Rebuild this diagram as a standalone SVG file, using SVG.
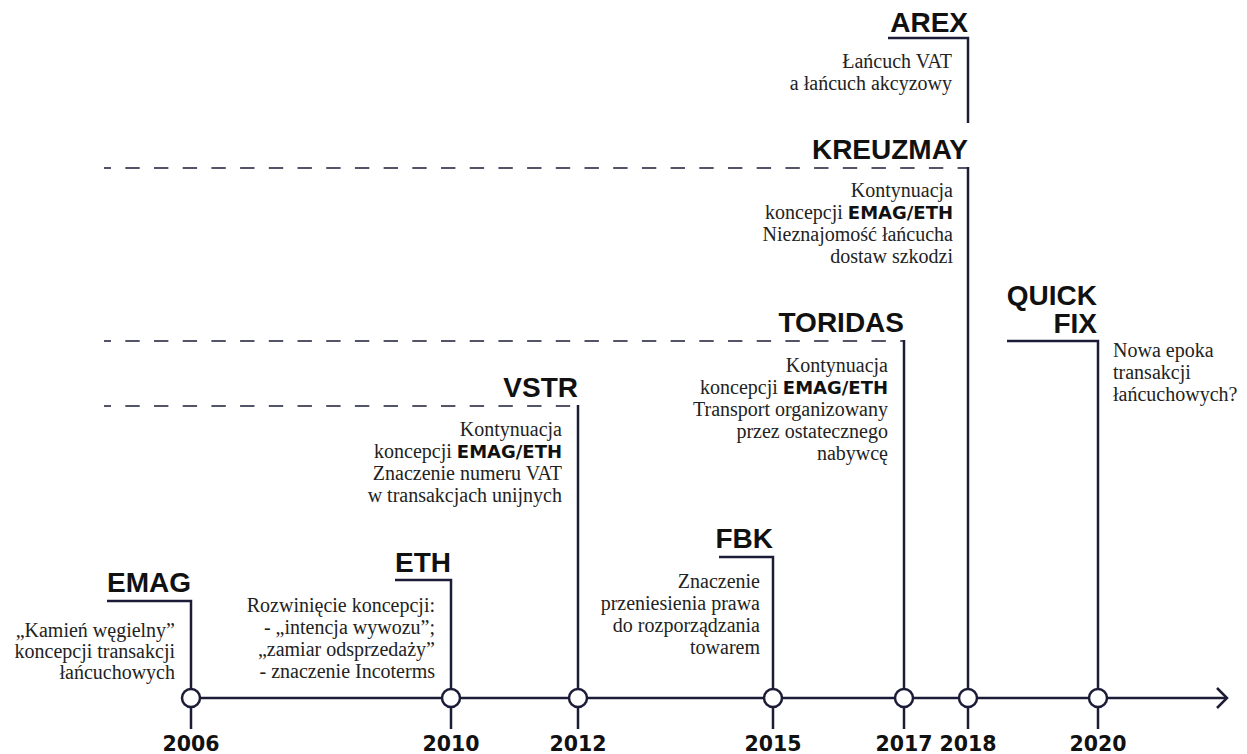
<svg xmlns="http://www.w3.org/2000/svg" width="1247" height="754" viewBox="0 0 1247 754">
<style>
.ln{fill:none;stroke:#1c1c38;stroke-width:2.5}
.dash{fill:none;stroke:#1c1c38;stroke-width:1.6;stroke-dasharray:14.4 14.3;stroke-dashoffset:7.4}
.dot{fill:#fff;stroke:#1c1c38;stroke-width:2.5}
.h{font-family:"Liberation Sans",Arial,sans-serif;font-weight:700;font-size:28px;fill:#111;text-anchor:end}
.yr{font-family:"DejaVu Sans",sans-serif;font-weight:700;font-size:20.5px;fill:#111;text-anchor:middle}
.b{font-family:"Liberation Serif","Times New Roman",serif;font-size:20px;fill:#222;text-anchor:end}
.bs{font-family:"DejaVu Sans",sans-serif;font-weight:700;font-size:18px;fill:#111}
.l{text-anchor:start}
</style>
<rect width="1247" height="754" fill="#fff"/>
<g id="connectors">
  <path class="ln" d="M200 698 H1226"/>
  <path class="ln" d="M1217 688 L1227 698 L1217 708"/>
  <path class="dash" d="M104 168 H968"/>
  <path class="dash" d="M104 341 H904"/>
  <path class="dash" d="M104 406 H578"/>
  <path class="ln" d="M107 601 H191 V689"/>
  <path class="ln" d="M395 580 H451 V689"/>
  <path class="ln" d="M578 405 V689"/>
  <path class="ln" d="M719 557 H773 V689"/>
  <path class="ln" d="M904 340 V689"/>
  <path class="ln" d="M968 167 V689"/>
  <path class="ln" d="M888 38 H968 V123"/>
  <path class="ln" d="M1007 341 H1098 V689"/>
  <path class="ln" d="M191 707 V729 M451 707 V729 M578 707 V729 M773 707 V729 M904 707 V729 M968 707 V729 M1098 707 V729"/>
</g>
<g id="years">
  <circle class="dot" cx="191" cy="698" r="9"/>
  <circle class="dot" cx="451" cy="698" r="9"/>
  <circle class="dot" cx="578" cy="698" r="9"/>
  <circle class="dot" cx="773" cy="698" r="9"/>
  <circle class="dot" cx="904" cy="698" r="9"/>
  <circle class="dot" cx="968" cy="698" r="9"/>
  <circle class="dot" cx="1098" cy="698" r="9"/>
  <text class="yr" x="191" y="751">2006</text>
  <text class="yr" x="451" y="751">2010</text>
  <text class="yr" x="578" y="751">2012</text>
  <text class="yr" x="773" y="751">2015</text>
  <text class="yr" x="904" y="751">2017</text>
  <text class="yr" x="968" y="751">2018</text>
  <text class="yr" x="1098" y="751">2020</text>
</g>
<g id="emag">
  <text class="h" x="191" y="592">EMAG</text>
  <text class="b" x="175" y="637">„Kamień węgielny”</text>
  <text class="b" x="175" y="658">koncepcji transakcji</text>
  <text class="b" x="175" y="679">łańcuchowych</text>
</g>
<g id="eth">
  <text class="h" x="451" y="572">ETH</text>
  <text class="b" x="435" y="612">Rozwinięcie koncepcji:</text>
  <text class="b" x="435" y="634">- „intencja wywozu”;</text>
  <text class="b" x="435" y="656">„zamiar odsprzedaży”</text>
  <text class="b" x="435" y="678">- znaczenie Incoterms</text>
</g>
<g id="vstr">
  <text class="h" x="578" y="397">VSTR</text>
  <text class="b" x="562" y="436">Kontynuacja</text>
  <text class="b" x="562" y="458">koncepcji <tspan class="bs">EMAG/ETH</tspan></text>
  <text class="b" x="562" y="480">Znaczenie numeru VAT</text>
  <text class="b" x="562" y="502">w transakcjach unijnych</text>
</g>
<g id="fbk">
  <text class="h" x="773" y="548">FBK</text>
  <text class="b" x="760" y="588">Znaczenie</text>
  <text class="b" x="760" y="610">przeniesienia prawa</text>
  <text class="b" x="760" y="632">do rozporządzania</text>
  <text class="b" x="760" y="654">towarem</text>
</g>
<g id="toridas">
  <text class="h" x="904" y="332">TORIDAS</text>
  <text class="b" x="888" y="372">Kontynuacja</text>
  <text class="b" x="888" y="394">koncepcji <tspan class="bs">EMAG/ETH</tspan></text>
  <text class="b" x="888" y="416">Transport organizowany</text>
  <text class="b" x="888" y="438">przez ostatecznego</text>
  <text class="b" x="888" y="460">nabywcę</text>
</g>
<g id="kreuzmay">
  <text class="h" x="968" y="159">KREUZMAY</text>
  <text class="b" x="953" y="197">Kontynuacja</text>
  <text class="b" x="953" y="219">koncepcji <tspan class="bs">EMAG/ETH</tspan></text>
  <text class="b" x="953" y="241">Nieznajomość łańcucha</text>
  <text class="b" x="953" y="263">dostaw szkodzi</text>
</g>
<g id="arex">
  <text class="h" x="968" y="32">AREX</text>
  <text class="b" x="952" y="68">Łańcuch VAT</text>
  <text class="b" x="952" y="90">a łańcuch akcyzowy</text>
</g>
<g id="quickfix">
  <text class="h" x="1097" y="305">QUICK</text>
  <text class="h" x="1097" y="333">FIX</text>
  <text class="b l" x="1113" y="357">Nowa epoka</text>
  <text class="b l" x="1113" y="379">transakcji</text>
  <text class="b l" x="1113" y="401">łańcuchowych?</text>
</g>
</svg>
